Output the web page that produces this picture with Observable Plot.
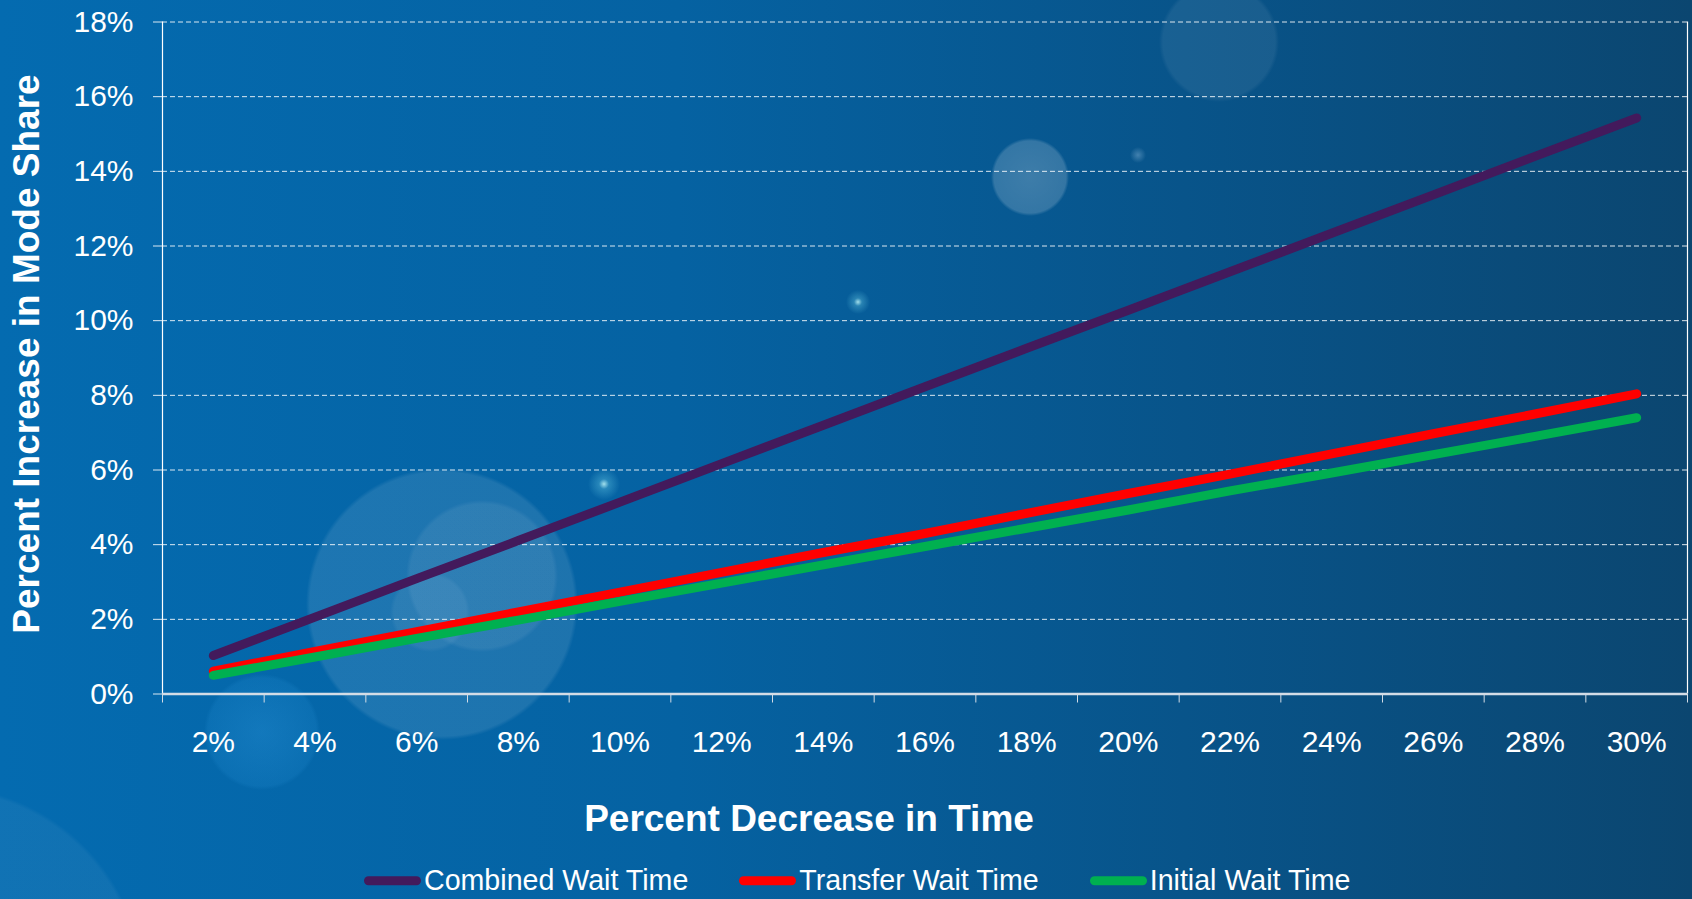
<!DOCTYPE html>
<html>
<head>
<meta charset="utf-8">
<script src="https://cdn.jsdelivr.net/npm/d3@7"></script>
<script src="https://cdn.jsdelivr.net/npm/@observablehq/plot@0.6"></script>
<style>
  html, body { margin: 0; padding: 0; }
  body { width: 1692px; height: 899px; overflow: hidden; }
  #wrap {
    position: relative; width: 1692px; height: 899px; overflow: hidden;
    font-family: "Liberation Sans", Arial, sans-serif; color: white;
    background:
      radial-gradient(circle at 442px 604px, rgba(255,255,255,0.10) 0, rgba(255,255,255,0.10) 132px, rgba(255,255,255,0) 136px),
      radial-gradient(circle at 482px 576px, rgba(255,255,255,0.07) 0, rgba(255,255,255,0.07) 72px, rgba(255,255,255,0) 76px),
      radial-gradient(circle at 430px 612px, rgba(255,255,255,0.06) 0, rgba(255,255,255,0.06) 36px, rgba(255,255,255,0) 40px),
      radial-gradient(circle at 1030px 177px, rgba(255,255,255,0.22) 0, rgba(255,255,255,0.18) 36px, rgba(255,255,255,0) 39px),
      radial-gradient(circle at 1219px 42px, rgba(255,255,255,0.07) 0, rgba(255,255,255,0.07) 56px, rgba(255,255,255,0) 60px),
      radial-gradient(circle at 262px 732px, rgba(60,170,240,0.25) 0, rgba(60,170,240,0.12) 54px, rgba(60,170,240,0) 58px),
      radial-gradient(circle at 858px 302px, rgba(200,255,255,0.8) 0, rgba(120,220,240,0.3) 4px, rgba(120,220,240,0) 12px),
      radial-gradient(circle at 604px 484px, rgba(200,255,255,0.8) 0, rgba(120,220,240,0.3) 5px, rgba(120,220,240,0) 16px),
      radial-gradient(circle at 1138px 155px, rgba(200,230,255,0.3) 0, rgba(200,230,255,0) 8px),
      radial-gradient(circle at -60px 990px, rgba(255,255,255,0.05) 0, rgba(255,255,255,0.05) 200px, rgba(255,255,255,0) 204px),
      linear-gradient(to right, #046bb0 0%, #0562a2 40%, #08548a 70%, #0b4670 100%);
  }
  #chart { position: absolute; left: 0; top: 0; }
  #xtitle {
    position: absolute; left: 809px; top: 819px; transform: translate(-50%, -50%);
    font-weight: bold; font-size: 37px; white-space: nowrap;
  }
  #ytitle {
    position: absolute; left: 27px; top: 354px; transform: translate(-50%, -50%) rotate(-90deg);
    font-weight: bold; font-size: 37px; white-space: nowrap;
  }
  #legend {
    position: absolute; left: 364px; top: 881px; transform: translateY(-50%);
    display: flex; align-items: center; font-size: 28.6px; line-height: 1.1; white-space: nowrap;
  }
  .item { display: flex; align-items: center; margin-right: 51px; }
  .sw { width: 57px; height: 9px; border-radius: 5px; margin-right: 3px; }
</style>
</head>
<body>
<div id="wrap">
  <div id="chart"></div>
  <div id="ytitle">Percent Increase in Mode Share</div>
  <div id="xtitle">Percent Decrease in Time</div>
  <div id="legend"></div>
</div>
<script>
// Categories: percent decrease in time
const xValues = [2, 4, 6, 8, 10, 12, 14, 16, 18, 20, 22, 24, 26, 28, 30];
const xLabels = ["2%", "4%", "6%", "8%", "10%", "12%", "14%", "16%", "18%", "20%", "22%", "24%", "26%", "28%", "30%"];
// Series values (fraction of mode share increase)
const combinedWait = [0.0103, 0.0206, 0.0309, 0.0411, 0.0514, 0.0617, 0.0720, 0.0823, 0.0926, 0.1028, 0.1131, 0.1234, 0.1337, 0.1440, 0.1543];
const transferWait = [0.0061, 0.0114, 0.0167, 0.0220, 0.0273, 0.0326, 0.0379, 0.0430, 0.0484, 0.0537, 0.0589, 0.0643, 0.0697, 0.0750, 0.0804];
const initialWait  = [0.0050, 0.0099, 0.0149, 0.0198, 0.0248, 0.0297, 0.0346, 0.0395, 0.0444, 0.0493, 0.0544, 0.0592, 0.0641, 0.0690, 0.0740];
const seriesNames = ["Combined Wait Time", "Transfer Wait Time", "Initial Wait Time"];
const seriesColors = ["#431a5c", "#ff0000", "#00b050"];
// Y ticks
const yTicks = [0, 0.02, 0.04, 0.06, 0.08, 0.10, 0.12, 0.14, 0.16, 0.18];
const yLabels = ["0%", "2%", "4%", "6%", "8%", "10%", "12%", "14%", "16%", "18%"];

const seriesValues = [combinedWait, transferWait, initialWait];
const rows = seriesNames.map((name, s) => xValues.map((x, i) => ({series: name, x, y: seriesValues[s][i]})));
// category boundaries (each category spans one band of width 2)
const bounds = [xValues[0] - 1, ...xValues.map(x => x + 1)];

const chart = Plot.plot({
  width: 1692,
  height: 760,
  marginTop: 21.5,
  marginBottom: 66.5,
  marginLeft: 162,
  marginRight: 5,
  style: {background: "transparent", color: "white", fontFamily: "'Liberation Sans', Arial, sans-serif", fontSize: "30px", overflow: "visible"},
  x: {type: "linear", domain: [bounds[0], bounds[bounds.length - 1]]},
  y: {domain: [0, 0.18]},
  marks: [
    Plot.gridY(yTicks, {stroke: "white", strokeOpacity: 0.85, strokeDasharray: "5,3"}),
    Plot.axisY({ticks: yTicks, tickSize: 9, tickPadding: 20, tickFormat: d => yLabels[yTicks.indexOf(d)], label: null, stroke: "white", strokeOpacity: 0.85, fill: "white"}),
    Plot.axisX({ticks: bounds, tickSize: 9, tickFormat: () => "", label: null, stroke: "#d3dce6"}),
    Plot.axisX({ticks: xValues, tickSize: 0, tickPadding: 37, tickFormat: d => xLabels[xValues.indexOf(d)], label: null, fill: "white"}),
    Plot.ruleX([bounds[0]], {y1: 0, y2: 0.18, stroke: "white", strokeWidth: 1.2}),
    Plot.ruleX([bounds[bounds.length - 1]], {y1: 0, y2: 0.18, stroke: "white", strokeWidth: 1.2}),
    Plot.ruleY([0], {stroke: "#d3dce6", strokeWidth: 2.5}),
    ...rows.map((r, s) => Plot.line(r, {x: "x", y: "y", stroke: seriesColors[s], strokeWidth: 9, strokeLinecap: "round", strokeLinejoin: "round"}))
  ]
});
document.getElementById("chart").appendChild(chart);

const legend = document.getElementById("legend");
seriesNames.forEach((name, s) => {
  const item = document.createElement("div");
  item.className = "item";
  const sw = document.createElement("div");
  sw.className = "sw";
  sw.style.background = seriesColors[s];
  const t = document.createElement("span");
  t.textContent = name;
  item.appendChild(sw);
  item.appendChild(t);
  legend.appendChild(item);
});
</script>
</body>
</html>
